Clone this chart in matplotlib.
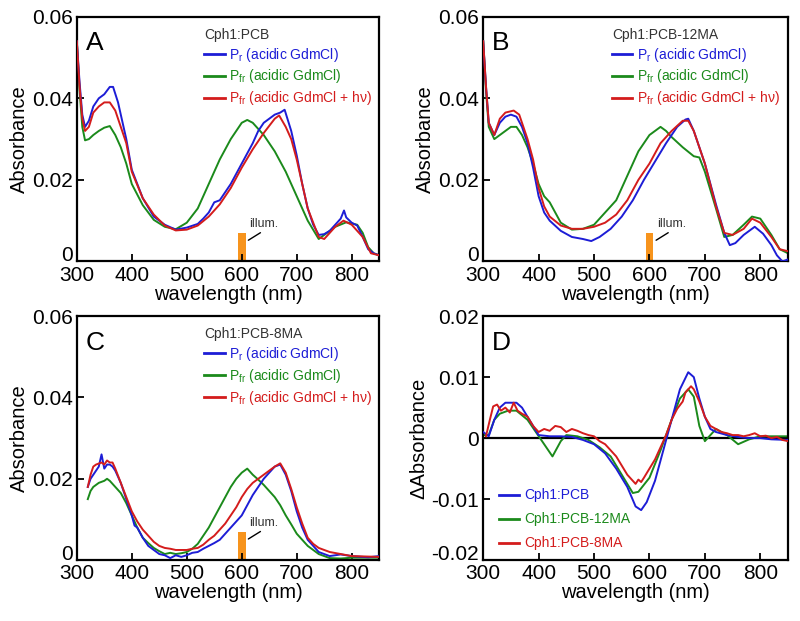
#!/usr/bin/env python3

import numpy as np
import matplotlib
matplotlib.use("Agg")
import matplotlib.pyplot as plt

plt.rcParams['font.family'] = ['Liberation Sans', 'DejaVu Sans']
plt.rcParams['mathtext.fontset'] = 'custom'
plt.rcParams['mathtext.rm'] = 'Liberation Sans'
plt.rcParams['mathtext.it'] = 'Liberation Sans'

BLUE = "#1d1dd6"
GREEN = "#1b8a1b"
RED = "#d41c1c"
ORANGE = "#f7941d"

labels3 = [r"P$_\mathrm{r}$ (acidic GdmCl)",
           r"P$_\mathrm{fr}$ (acidic GdmCl)",
           r"P$_\mathrm{fr}$ (acidic GdmCl + h$\nu$)"]

# ---- panel A : Cph1:PCB
a_blue_x = [300, 305, 310, 315, 322, 330, 340, 350, 360, 366, 375, 390, 400, 420, 440, 460, 480, 500, 520,
            530, 540, 550, 560, 570, 580, 600, 620, 630, 640, 660, 670, 678, 690, 700, 710, 720, 730, 740,
            750, 760, 770, 780, 786, 790, 800, 810, 820, 830, 840, 850]
a_blue_y = [0.054, 0.044, 0.036, 0.033, 0.0345, 0.038, 0.040, 0.041, 0.0428, 0.0428, 0.039, 0.030, 0.0225,
            0.0155, 0.011, 0.009, 0.0078, 0.0083, 0.0092, 0.0105, 0.012, 0.0145, 0.015, 0.017, 0.019, 0.024,
            0.029, 0.032, 0.034, 0.036, 0.0365, 0.0372, 0.032, 0.026, 0.019, 0.013, 0.009, 0.0065, 0.0067,
            0.0075, 0.009, 0.0105, 0.0125, 0.0108, 0.0095, 0.0088, 0.006, 0.003, 0.002, 0.0015]
a_green_x = [300, 305, 310, 315, 322, 330, 340, 350, 360, 370, 380, 390, 400, 420, 440, 460, 480, 500, 520,
             540, 560, 580, 600, 610, 620, 640, 660, 680, 700, 720, 740, 750, 770, 790, 810, 820, 830, 840, 850]
a_green_y = [0.054, 0.042, 0.033, 0.0297, 0.030, 0.031, 0.032, 0.0328, 0.0332, 0.031, 0.028, 0.024, 0.019,
             0.0138, 0.0102, 0.0085, 0.0079, 0.0095, 0.013, 0.019, 0.025, 0.030, 0.034, 0.0347, 0.034, 0.031,
             0.027, 0.022, 0.016, 0.010, 0.0055, 0.0065, 0.0085, 0.0096, 0.009, 0.007, 0.0035, 0.002, 0.0015]
a_red_x = [300, 305, 310, 315, 322, 330, 340, 350, 360, 370, 380, 390, 400, 420, 440, 460, 480, 500, 520,
           540, 560, 580, 600, 620, 640, 660, 668, 680, 690, 700, 720, 740, 750, 770, 785, 800, 820, 835, 850]
a_red_y = [0.054, 0.043, 0.035, 0.032, 0.033, 0.0365, 0.038, 0.039, 0.039, 0.037, 0.033, 0.029, 0.022,
           0.0155, 0.0115, 0.0088, 0.0076, 0.0078, 0.0088, 0.011, 0.014, 0.018, 0.023, 0.0275, 0.0315,
           0.035, 0.0358, 0.033, 0.030, 0.025, 0.013, 0.006, 0.0055, 0.0085, 0.0100, 0.009, 0.006, 0.002,
           0.0015]

# ---- panel B : Cph1:PCB-12MA
b_blue_x = [300, 305, 310, 320, 330, 340, 350, 360, 370, 380, 390, 400, 410, 420, 440, 460, 480, 495, 510,
            530, 550, 570, 590, 610, 630, 650, 665, 670, 680, 690, 700, 720, 735, 745, 755, 770, 790, 805,
            820, 830, 840, 850]
b_blue_y = [0.054, 0.043, 0.034, 0.031, 0.034, 0.0355, 0.036, 0.0355, 0.033, 0.029, 0.023, 0.016, 0.012,
            0.010, 0.0075, 0.006, 0.0055, 0.005, 0.006, 0.008, 0.011, 0.015, 0.020, 0.0245, 0.029, 0.033,
            0.0348, 0.035, 0.032, 0.028, 0.024, 0.014, 0.007, 0.004, 0.0045, 0.0065, 0.0085, 0.0068, 0.004,
            0.0015, 0.0, 0.0005]
b_green_x = [300, 305, 310, 320, 340, 350, 360, 370, 380, 390, 400, 410, 420, 430, 440, 460, 480, 500, 520,
             540, 560, 580, 600, 620, 630, 640, 660, 680, 690, 700, 720, 735, 750, 770, 785, 800, 820, 835,
             850]
b_green_y = [0.054, 0.042, 0.033, 0.030, 0.032, 0.033, 0.033, 0.031, 0.028, 0.024, 0.019, 0.016, 0.0145,
             0.012, 0.0095, 0.0078, 0.008, 0.009, 0.012, 0.015, 0.021, 0.027, 0.031, 0.033, 0.032, 0.0305,
             0.028, 0.0258, 0.0255, 0.022, 0.013, 0.006, 0.0065, 0.009, 0.011, 0.0105, 0.0065, 0.003, 0.002]
b_red_x = [300, 305, 310, 320, 330, 340, 355, 365, 380, 390, 400, 410, 420, 440, 460, 480, 500, 520, 540,
           560, 580, 600, 620, 640, 660, 670, 680, 690, 700, 720, 735, 750, 770, 785, 800, 820, 835, 850]
b_red_y = [0.054, 0.043, 0.034, 0.031, 0.035, 0.0365, 0.037, 0.036, 0.030, 0.025, 0.018, 0.0135, 0.011,
           0.0088, 0.008, 0.008, 0.0085, 0.0095, 0.0115, 0.015, 0.020, 0.024, 0.029, 0.032, 0.0345, 0.0345,
           0.032, 0.028, 0.024, 0.0135, 0.007, 0.0065, 0.008, 0.0105, 0.0095, 0.006, 0.003, 0.0025]

# ---- panel C : Cph1:PCB-8MA (noisy traces)
c_blue_x = [320, 325, 330, 335, 340, 345, 350, 355, 360, 365, 370, 380, 390, 400, 405, 410, 420, 430, 440,
            450, 460, 470, 480, 490, 500, 510, 520, 530, 540, 550, 560, 570, 580, 590, 600, 610, 620, 630,
            640, 650, 660, 670, 680, 690, 700, 710, 720, 730, 740, 760, 780, 800, 830, 850]
c_blue_y = [0.018, 0.020, 0.021, 0.022, 0.023, 0.026, 0.0225, 0.0235, 0.0235, 0.023, 0.022, 0.019, 0.015,
            0.011, 0.0085, 0.008, 0.0055, 0.0035, 0.0025, 0.0015, 0.0012, 0.0005, 0.0012, 0.0008, 0.0012,
            0.0018, 0.002, 0.0028, 0.0035, 0.0042, 0.005, 0.0065, 0.008, 0.0095, 0.011, 0.0135, 0.016, 0.018,
            0.020, 0.0215, 0.023, 0.0235, 0.021, 0.017, 0.012, 0.008, 0.005, 0.0035, 0.002, 0.001, 0.0014,
            0.001, 0.0007, 0.001]
c_green_x = [320, 325, 330, 340, 350, 355, 360, 370, 380, 390, 400, 410, 420, 430, 440, 450, 460, 470, 480,
             490, 500, 510, 520, 530, 540, 550, 560, 570, 580, 590, 600, 610, 620, 630, 640, 650, 660, 670,
             680, 690, 700, 710, 720, 730, 740, 760, 780, 800, 850]
c_green_y = [0.015, 0.017, 0.018, 0.019, 0.0195, 0.020, 0.0195, 0.018, 0.0165, 0.014, 0.011, 0.008, 0.0055,
             0.0042, 0.003, 0.0022, 0.0015, 0.0018, 0.0015, 0.0017, 0.002, 0.0028, 0.004, 0.006, 0.008, 0.0105,
             0.013, 0.0155, 0.018, 0.020, 0.0215, 0.0225, 0.021, 0.0198, 0.0185, 0.017, 0.0155, 0.0135, 0.011,
             0.0088, 0.0065, 0.005, 0.0035, 0.0025, 0.0015, 0.0005, 0.0004, 0.0006, 0.0006]
c_red_x = [320, 325, 330, 335, 345, 350, 355, 360, 365, 370, 380, 390, 400, 410, 420, 430, 440, 450, 460,
           470, 480, 490, 500, 510, 520, 530, 540, 550, 560, 570, 580, 590, 600, 610, 620, 630, 640, 650,
           660, 670, 680, 690, 700, 710, 720, 730, 740, 760, 780, 800, 850]
c_red_y = [0.018, 0.021, 0.023, 0.0235, 0.024, 0.0235, 0.0245, 0.024, 0.024, 0.0225, 0.019, 0.0155, 0.012,
           0.0095, 0.0075, 0.006, 0.0045, 0.0035, 0.003, 0.0028, 0.0025, 0.0025, 0.0025, 0.0028, 0.003,
           0.0038, 0.005, 0.006, 0.0075, 0.009, 0.011, 0.013, 0.0155, 0.0175, 0.019, 0.020, 0.021, 0.022,
           0.023, 0.0238, 0.0215, 0.0175, 0.013, 0.009, 0.0055, 0.004, 0.003, 0.002, 0.0015, 0.001, 0.0008]

# ---- panel D : difference spectra
d_x_pcb = [300, 310, 320, 330, 340, 360, 370, 390, 400, 420, 440, 460, 480, 500, 520, 540, 560, 575, 585,
           595, 610, 625, 640, 655, 670, 680, 690, 700, 710, 720, 740, 760, 780, 800, 820, 850]
d_y_pcb = [0.001, 0.0003, 0.003, 0.005, 0.0058, 0.0058, 0.005, 0.002, 0.0005, 0.0003, 0.0003, 0.0002,
           -0.0003, -0.001, -0.0025, -0.005, -0.008, -0.0112, -0.0118, -0.0105, -0.007, -0.002, 0.003,
           0.008, 0.0108, 0.010, 0.0065, 0.0035, 0.0015, 0.001, 0.0005, 0.0002, 0.0, 0.0, -0.0002, -0.0003]
d_x_12ma = [300, 310, 320, 330, 345, 360, 380, 395, 410, 425, 440, 450, 470, 490, 510, 530, 550, 570, 580,
            600, 620, 640, 655, 670, 680, 690, 700, 710, 720, 740, 760, 780, 800, 850]
d_y_12ma = [0.0005, 0.0005, 0.003, 0.004, 0.0045, 0.0045, 0.003, 0.001, -0.001, -0.003, -0.0005, 0.0005,
            0.0003, -0.0003, -0.0015, -0.003, -0.006, -0.009, -0.0088, -0.0065, -0.002, 0.003, 0.0065,
            0.008, 0.0068, 0.002, -0.0005, 0.0005, 0.0015, 0.0005, -0.001, -0.0002, 0.0003, 0.0003]
d_x_8ma = [305, 312, 318, 325, 332, 340, 348, 355, 362, 370, 380, 390, 400, 410, 420, 430, 440, 450, 460,
           470, 480, 490, 500, 510, 520, 530, 540, 550, 560, 570, 575, 580, 585, 590, 600, 610, 620, 630,
           640, 650, 660, 665, 670, 675, 680, 690, 700, 710, 720, 730, 740, 750, 760, 770, 780, 790, 800,
           810, 820, 830, 840, 850]
d_y_8ma = [0.0003, 0.003, 0.0052, 0.0055, 0.0045, 0.005, 0.0042, 0.0058, 0.0045, 0.004, 0.0035, 0.002,
           0.001, 0.0015, 0.0012, 0.002, 0.0018, 0.001, 0.0015, 0.0012, 0.0008, 0.0005, 0.0003, -0.0005,
           -0.001, -0.002, -0.003, -0.0045, -0.006, -0.007, -0.0075, -0.0068, -0.0072, -0.0065, -0.005,
           -0.0035, -0.0015, 0.0005, 0.003, 0.0048, 0.006, 0.0075, 0.008, 0.0085, 0.008, 0.006, 0.0035,
           0.002, 0.0015, 0.001, 0.0008, 0.0005, 0.0005, 0.0003, 0.0005, 0.0008, 0.0003, 0.0004, 0.0,
           0.0002, -0.0003, -0.0005]

illum_center = 600
illum_width = 14
illum_height = 0.007


def style_axes(ax, ylim, yticks, yticklabels, ylabel):
    ax.set_xlim(300, 850)
    ax.set_ylim(*ylim)
    ax.set_xticks([300, 400, 500, 600, 700, 800])
    ax.set_yticks(yticks)
    ax.set_yticklabels(yticklabels)
    ax.tick_params(direction='in', length=5, width=1.3, labelsize=15, pad=3)
    # bottom y label sits on the axis instead of centred on the tick
    ax.yaxis.get_major_ticks()[0].label1.set_verticalalignment('baseline')
    for s in ax.spines.values():
        s.set_linewidth(1.6)
    ax.set_xlabel("wavelength (nm)", fontsize=14.5, labelpad=0)
    ax.set_ylabel(ylabel, fontsize=14.5, labelpad=2)


def add_illum(ax):
    ax.bar([illum_center], [illum_height], width=illum_width, color=ORANGE, zorder=1)
    ax.annotate("illum.", xy=(612, 0.0052), xytext=(613, 0.0092), fontsize=9, color="#333333",
                ha='left', va='center',
                arrowprops=dict(arrowstyle='-', color='black', lw=1.0, shrinkA=0, shrinkB=0,
                                relpos=(0.55, 0.0)))


def absorbance_panel(ax, letter, title, blue, green, red):
    ax.plot(*blue, color=BLUE, lw=1.4, label=labels3[0], zorder=3)
    ax.plot(*green, color=GREEN, lw=1.4, label=labels3[1], zorder=2)
    ax.plot(*red, color=RED, lw=1.4, label=labels3[2], zorder=4)
    add_illum(ax)
    style_axes(ax, (0, 0.06), [0, 0.02, 0.04, 0.06], ["0", "0.02", "0.04", "0.06"], "Absorbance")
    ax.text(0.03, 0.94, letter, transform=ax.transAxes, fontsize=19, va='top', ha='left')
    leg = ax.legend(loc='upper left', bbox_to_anchor=(0.39, 0.995), frameon=False, fontsize=10,
                    title=title, title_fontsize=10, alignment='left', handlelength=1.45,
                    handletextpad=0.35, labelspacing=0.28, borderpad=0.2, labelcolor='linecolor')
    leg.get_title().set_color("#333333")
    for h in leg.get_lines():
        h.set_linewidth(2.0)


fig = plt.figure(figsize=(8, 6.21), dpi=100)
axA = fig.add_axes([0.096, 0.579, 0.378, 0.394])
axB = fig.add_axes([0.604, 0.579, 0.381, 0.394])
axC = fig.add_axes([0.096, 0.098, 0.378, 0.393])
axD = fig.add_axes([0.604, 0.098, 0.381, 0.393])

absorbance_panel(axA, "A", "Cph1:PCB", (a_blue_x, a_blue_y), (a_green_x, a_green_y), (a_red_x, a_red_y))
absorbance_panel(axB, "B", "Cph1:PCB-12MA", (b_blue_x, b_blue_y), (b_green_x, b_green_y),
                 (b_red_x, b_red_y))
absorbance_panel(axC, "C", "Cph1:PCB-8MA", (c_blue_x, c_blue_y), (c_green_x, c_green_y),
                 (c_red_x, c_red_y))

# panel D
axD.axhline(0, color='black', lw=1.6, zorder=1)
axD.plot(d_x_pcb, d_y_pcb, color=BLUE, lw=1.4, label="Cph1:PCB", zorder=3)
axD.plot(d_x_12ma, d_y_12ma, color=GREEN, lw=1.4, label="Cph1:PCB-12MA", zorder=2)
axD.plot(d_x_8ma, d_y_8ma, color=RED, lw=1.4, label="Cph1:PCB-8MA", zorder=4)
style_axes(axD, (-0.02, 0.02), [-0.02, -0.01, 0, 0.01, 0.02], ["-0.02", "-0.01", "0", "0.01", "0.02"],
           "ΔAbsorbance")
axD.text(0.03, 0.94, "D", transform=axD.transAxes, fontsize=19, va='top', ha='left')
legD = axD.legend(loc='lower left', bbox_to_anchor=(0.02, 0.0), frameon=False, fontsize=10,
                  handlelength=1.45, handletextpad=0.35, labelspacing=0.72, borderpad=0.2,
                  labelcolor='linecolor')
for h in legD.get_lines():
    h.set_linewidth(2.0)

fig.savefig("out.png", dpi=100)
